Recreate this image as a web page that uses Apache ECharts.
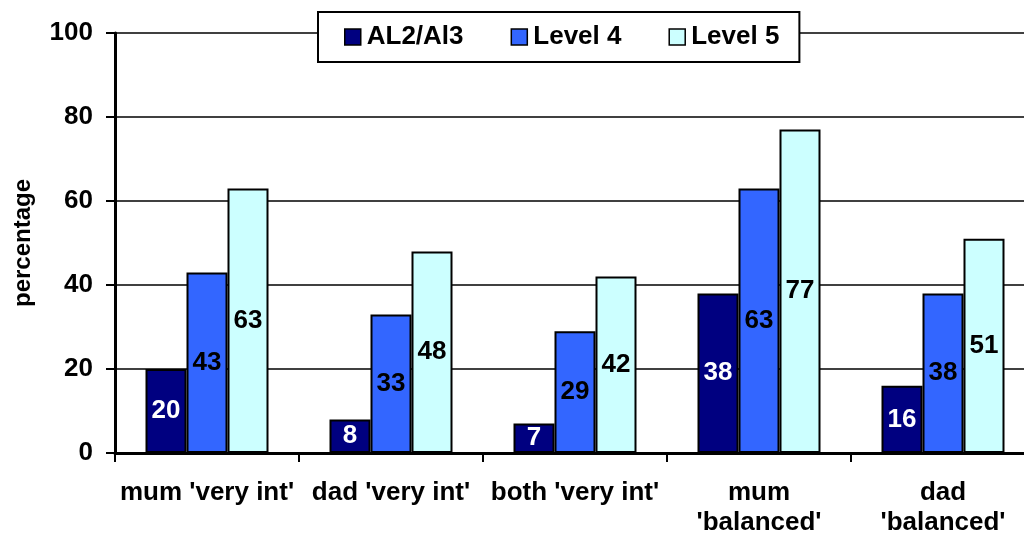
<!DOCTYPE html>
<html><head><meta charset="utf-8">
<script src="https://cdn.jsdelivr.net/npm/echarts@6/dist/echarts.min.js"></script>
<style>html,body{margin:0;padding:0;background:#fff}#c{width:1024px;height:536px}</style>
</head><body><div id="c"></div>
<script>
var categories = ["mum 'very int'", "dad 'very int'", "both 'very int'", "mum\n'balanced'", "dad\n'balanced'"];
var seriesNames = ["AL2/Al3", "Level 4", "Level 5"];
var al2 = [20, 8, 7, 38, 16];
var level4 = [43, 33, 29, 63, 38];
var level5 = [63, 48, 42, 77, 51];
var yTicks = [0, 20, 40, 60, 80, 100];

var colors = ['#000080', '#3366FF', '#CCFFFF'];
var labelColors = ['#ffffff', '#000000', '#000000'];
var dataSets = [al2, level4, level5];
var font = 'Arial, "Liberation Sans", sans-serif';

var chart = echarts.init(document.getElementById('c'));
chart.setOption({
  animation: false,
  backgroundColor: '#ffffff',
  textStyle: { fontFamily: font },
  legend: {
    top: 12, left: 318,
    padding: [12, 20, 12, 26],
    itemGap: 47,
    itemWidth: 16, itemHeight: 16,
    borderColor: '#000', borderWidth: 2,
    backgroundColor: '#fff',
    icon: 'rect',
    itemStyle: { borderColor: '#000', borderWidth: 1.5 },
    textStyle: { fontFamily: font, fontWeight: 'bold', fontSize: 26, color: '#000', padding: [0, 0, 0, 1] },
    data: seriesNames,
    z: 10
  },
  grid: { left: 115, top: 33, width: 920, height: 420, containLabel: false, outerBoundsMode: 'none' },
  xAxis: {
    type: 'category',
    data: categories,
    axisLine: { lineStyle: { color: '#000', width: 3 } },
    axisTick: { show: true, length: 9, alignWithLabel: false, lineStyle: { color: '#000', width: 2 } },
    axisLabel: { fontFamily: font, fontWeight: 'bold', fontSize: 26, color: '#000', margin: 25, lineHeight: 30, interval: 0 }
  },
  yAxis: {
    type: 'value', min: 0, max: 100, interval: 20,
    name: 'percentage', nameLocation: 'middle', nameGap: 80, nameRotate: 90,
    nameTextStyle: { fontFamily: font, fontWeight: 'bold', fontSize: 24, color: '#000' },
    axisLine: { show: true, lineStyle: { color: '#000', width: 3 } },
    axisTick: { show: true, length: 9, lineStyle: { color: '#000', width: 2 } },
    axisLabel: { fontFamily: font, fontWeight: 'bold', fontSize: 26, color: '#000', margin: 22,
      formatter: function (v) { return yTicks.indexOf(v) >= 0 ? String(v) : ''; } },
    splitLine: { show: true, lineStyle: { color: '#000', width: 1.5 } }
  },
  series: dataSets.map(function (d, i) {
    return {
      name: seriesNames[i], type: 'bar', data: d,
      barWidth: 41, barGap: '0%',
      itemStyle: { color: colors[i], borderColor: '#000', borderWidth: 2 },
      label: { show: true, position: 'inside', fontFamily: font, fontWeight: 'bold', fontSize: 26, color: labelColors[i] }
    };
  })
});
</script></body></html>
